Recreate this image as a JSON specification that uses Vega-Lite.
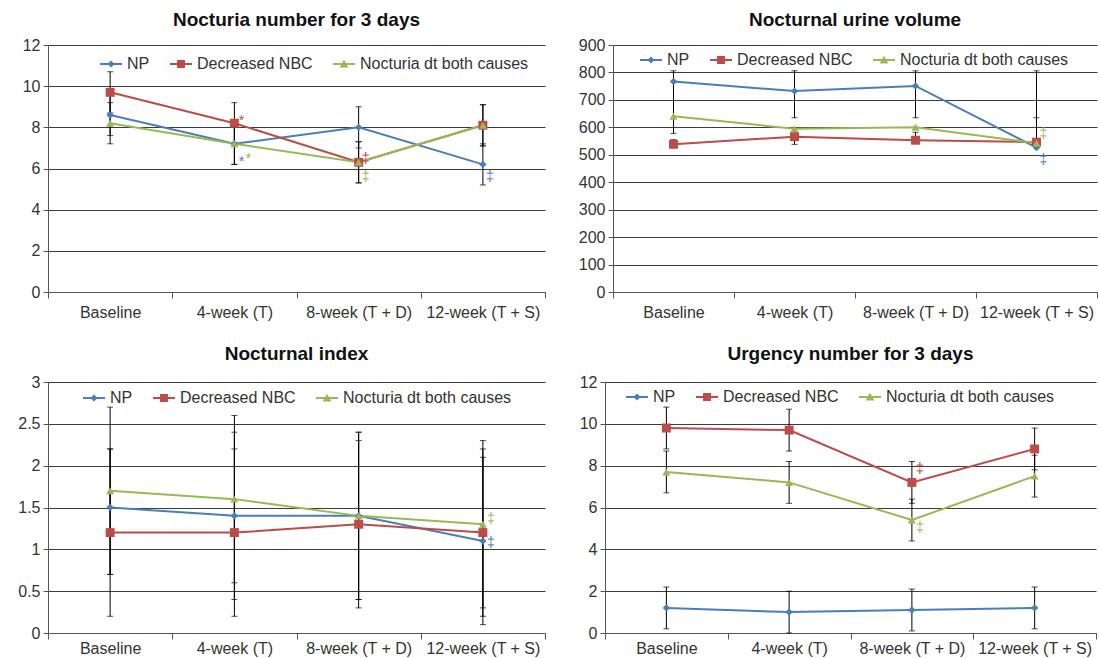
{
  "$schema": "https://vega.github.io/schema/vega-lite/v6.json",
  "padding": {"left": 17, "top": 11, "right": 3, "bottom": 2},
  "background": "white",
  "spacing": 25,
  "config": {
    "font": "Liberation Sans",
    "view": {"stroke": null},
    "axis": {"labelFont": "Liberation Sans", "labelFontSize": 16, "labelColor": "#333", "domainColor": "#555", "tickColor": "#555", "gridColor": "#3c3c3c", "gridWidth": 1, "title": null},
    "axisX": {"grid": false, "tickSize": 6, "labelPadding": 6, "labelAngle": 0},
    "axisY": {"grid": true, "tickSize": 5, "labelPadding": 3, "minExtent": 31, "labelOverlap": false},
    "title": {"font": "Liberation Sans", "fontSize": 19, "fontWeight": "bold", "color": "#111", "anchor": "middle", "offset": 10},
    "legend": {"labelFont": "Liberation Sans", "labelFontSize": 16, "labelColor": "#333", "labelLimit": 400}
  },
  "resolve": {"scale": {"color": "independent", "shape": "independent", "y": "independent"}},
  "datasets": {
    "p1": [
      {"time": "Baseline", "series": "NP", "value": 8.6, "lo": 7.6, "hi": 9.6},
      {"time": "Baseline", "series": "Decreased NBC", "value": 9.7, "lo": 8.7, "hi": 10.7},
      {"time": "Baseline", "series": "Nocturia dt both causes", "value": 8.2, "lo": 7.2, "hi": 9.2},
      {"time": "4-week (T)", "series": "NP", "value": 7.2, "lo": 6.2, "hi": 8.2},
      {"time": "4-week (T)", "series": "Decreased NBC", "value": 8.2, "lo": 7.2, "hi": 9.2},
      {"time": "4-week (T)", "series": "Nocturia dt both causes", "value": 7.2, "lo": 6.2, "hi": 8.2},
      {"time": "8-week (T + D)", "series": "NP", "value": 8.0, "lo": 7.0, "hi": 9.0},
      {"time": "8-week (T + D)", "series": "Decreased NBC", "value": 6.3, "lo": 5.3, "hi": 7.3},
      {"time": "8-week (T + D)", "series": "Nocturia dt both causes", "value": 6.3, "lo": 5.3, "hi": 7.3},
      {"time": "12-week (T + S)", "series": "NP", "value": 6.2, "lo": 5.2, "hi": 7.2},
      {"time": "12-week (T + S)", "series": "Decreased NBC", "value": 8.1, "lo": 7.1, "hi": 9.1},
      {"time": "12-week (T + S)", "series": "Nocturia dt both causes", "value": 8.1, "lo": 7.1, "hi": 9.1}
    ],
    "n1": [
      {"time": "4-week (T)", "series": "Decreased NBC", "y": 8.3, "label": "*"},
      {"time": "4-week (T)", "series": "NP", "y": 6.3, "label": "*"},
      {"time": "4-week (T)", "series": "Nocturia dt both causes", "y": 6.45, "label": "*"},
      {"time": "8-week (T + D)", "series": "Decreased NBC", "y": 6.45, "label": "‡"},
      {"time": "8-week (T + D)", "series": "Nocturia dt both causes", "y": 5.6, "label": "‡"},
      {"time": "12-week (T + S)", "series": "NP", "y": 5.6, "label": "‡"}
    ],
    "p2": [
      {"time": "Baseline", "series": "NP", "value": 767, "lo": 578, "hi": 806},
      {"time": "Baseline", "series": "Decreased NBC", "value": 538, "lo": 538, "hi": 555},
      {"time": "Baseline", "series": "Nocturia dt both causes", "value": 640, "lo": null, "hi": null},
      {"time": "4-week (T)", "series": "NP", "value": 732, "lo": 635, "hi": 806},
      {"time": "4-week (T)", "series": "Decreased NBC", "value": 566, "lo": 538, "hi": 596},
      {"time": "4-week (T)", "series": "Nocturia dt both causes", "value": 595, "lo": null, "hi": null},
      {"time": "8-week (T + D)", "series": "NP", "value": 751, "lo": 635, "hi": 806},
      {"time": "8-week (T + D)", "series": "Decreased NBC", "value": 553, "lo": 553, "hi": 582},
      {"time": "8-week (T + D)", "series": "Nocturia dt both causes", "value": 600, "lo": null, "hi": null},
      {"time": "12-week (T + S)", "series": "NP", "value": 526, "lo": 526, "hi": 558},
      {"time": "12-week (T + S)", "series": "Decreased NBC", "value": 546, "lo": 546, "hi": 806},
      {"time": "12-week (T + S)", "series": "Nocturia dt both causes", "value": 542, "lo": 542, "hi": 635}
    ],
    "n2": [
      {"time": "12-week (T + S)", "series": "Nocturia dt both causes", "y": 575, "label": "‡"},
      {"time": "12-week (T + S)", "series": "NP", "y": 482, "label": "‡"}
    ],
    "p3": [
      {"time": "Baseline", "series": "NP", "value": 1.5, "lo": 0.7, "hi": 2.2},
      {"time": "Baseline", "series": "Decreased NBC", "value": 1.2, "lo": 0.2, "hi": 2.2},
      {"time": "Baseline", "series": "Nocturia dt both causes", "value": 1.7, "lo": 0.7, "hi": 2.7},
      {"time": "4-week (T)", "series": "NP", "value": 1.4, "lo": 0.4, "hi": 2.4},
      {"time": "4-week (T)", "series": "Decreased NBC", "value": 1.2, "lo": 0.2, "hi": 2.2},
      {"time": "4-week (T)", "series": "Nocturia dt both causes", "value": 1.6, "lo": 0.6, "hi": 2.6},
      {"time": "8-week (T + D)", "series": "NP", "value": 1.4, "lo": 0.4, "hi": 2.4},
      {"time": "8-week (T + D)", "series": "Decreased NBC", "value": 1.3, "lo": 0.3, "hi": 2.3},
      {"time": "8-week (T + D)", "series": "Nocturia dt both causes", "value": 1.4, "lo": 0.4, "hi": 2.4},
      {"time": "12-week (T + S)", "series": "NP", "value": 1.1, "lo": 0.1, "hi": 2.1},
      {"time": "12-week (T + S)", "series": "Decreased NBC", "value": 1.2, "lo": 0.2, "hi": 2.2},
      {"time": "12-week (T + S)", "series": "Nocturia dt both causes", "value": 1.3, "lo": 0.3, "hi": 2.3}
    ],
    "n3": [
      {"time": "12-week (T + S)", "series": "Nocturia dt both causes", "y": 1.36, "label": "‡"},
      {"time": "12-week (T + S)", "series": "NP", "y": 1.08, "label": "‡"}
    ],
    "p4": [
      {"time": "Baseline", "series": "NP", "value": 1.2, "lo": 0.2, "hi": 2.2},
      {"time": "Baseline", "series": "Decreased NBC", "value": 9.8, "lo": 8.8, "hi": 10.8},
      {"time": "Baseline", "series": "Nocturia dt both causes", "value": 7.7, "lo": 6.7, "hi": 8.7},
      {"time": "4-week (T)", "series": "NP", "value": 1.0, "lo": 0.0, "hi": 2.0},
      {"time": "4-week (T)", "series": "Decreased NBC", "value": 9.7, "lo": 8.7, "hi": 10.7},
      {"time": "4-week (T)", "series": "Nocturia dt both causes", "value": 7.2, "lo": 6.2, "hi": 8.2},
      {"time": "8-week (T + D)", "series": "NP", "value": 1.1, "lo": 0.1, "hi": 2.1},
      {"time": "8-week (T + D)", "series": "Decreased NBC", "value": 7.2, "lo": 6.2, "hi": 8.2},
      {"time": "8-week (T + D)", "series": "Nocturia dt both causes", "value": 5.4, "lo": 4.4, "hi": 6.4},
      {"time": "12-week (T + S)", "series": "NP", "value": 1.2, "lo": 0.2, "hi": 2.2},
      {"time": "12-week (T + S)", "series": "Decreased NBC", "value": 8.8, "lo": 7.8, "hi": 9.8},
      {"time": "12-week (T + S)", "series": "Nocturia dt both causes", "value": 7.5, "lo": 6.5, "hi": 8.5}
    ],
    "n4": [
      {"time": "8-week (T + D)", "series": "Decreased NBC", "y": 7.85, "label": "‡"},
      {"time": "8-week (T + D)", "series": "Nocturia dt both causes", "y": 5.0, "label": "‡"}
    ]
  },
  "vconcat": [
    {
      "bounds": "flush",
      "spacing": 68,
      "resolve": {"scale": {"color": "independent", "shape": "independent", "y": "independent"}},
      "hconcat": [
        {
          "title": {"text": "Nocturia number for 3 days", "offset": 7},
          "width": 497, "height": 247,
          "data": {"name": "p1"},
          "encoding": {"x": {"field": "time", "type": "nominal", "sort": ["Baseline", "4-week (T)", "8-week (T + D)", "12-week (T + S)"], "scale": {"type": "band", "paddingInner": 0, "paddingOuter": 0}, "axis": {"title": null, "tickBand": "extent"}}},
          "layer": [
            {"mark": {"type": "point", "filled": true, "opacity": 0},
             "encoding": {
               "y": {"field": "value", "type": "quantitative", "title": null, "scale": {"domain": [0, 12], "nice": false}, "axis": {"values": [0, 2, 4, 6, 8, 10, 12], "tickCount": 7, "format": "d", "title": null}},
               "color": {"field": "series", "type": "nominal", "scale": {"domain": ["NP", "Decreased NBC", "Nocturia dt both causes"], "range": ["#4a7ebb", "#be4b48", "#98b954"]}, "legend": {"orient": "none", "legendX": 52, "legendY": 8, "direction": "horizontal", "title": null, "symbolSize": 484, "symbolStrokeWidth": 0, "symbolOpacity": 1, "columnPadding": 20, "labelOffset": 5}},
               "shape": {"field": "series", "type": "nominal", "scale": {"domain": ["NP", "Decreased NBC", "Nocturia dt both causes"], "range": ["M-1,-0.09H1V0.09H-1Z M0,-0.32L0.32,0L0,0.32L-0.32,0Z", "M-1,-0.09H1V0.09H-1Z M-0.36,-0.36H0.36V0.36H-0.36Z", "M-1,-0.09H1V0.09H-1Z M0,-0.38L0.4,0.32H-0.4Z"]}, "legend": {"orient": "none", "legendX": 52, "legendY": 8, "direction": "horizontal", "title": null, "symbolSize": 484, "symbolStrokeWidth": 0, "symbolOpacity": 1, "columnPadding": 20, "labelOffset": 5}}
             }},
            {"transform": [{"filter": "isValid(datum.lo)"}], "mark": {"type": "rule", "color": "#000", "strokeWidth": 1}, "encoding": {"y": {"field": "lo", "type": "quantitative", "title": null}, "y2": {"field": "hi"}}},
            {"transform": [{"filter": "isValid(datum.lo)"}], "mark": {"type": "tick", "orient": "horizontal", "color": "#000", "size": 6, "thickness": 1}, "encoding": {"y": {"field": "lo", "type": "quantitative", "title": null}}},
            {"transform": [{"filter": "isValid(datum.hi)"}], "mark": {"type": "tick", "orient": "horizontal", "color": "#000", "size": 6, "thickness": 1}, "encoding": {"y": {"field": "hi", "type": "quantitative", "title": null}}},
            {"mark": {"type": "line", "strokeWidth": 2}, "encoding": {"y": {"field": "value", "type": "quantitative", "title": null}, "color": {"field": "series", "type": "nominal", "legend": null}}},
            {"transform": [{"filter": "datum.series == 'NP'"}], "mark": {"type": "point", "shape": "diamond", "filled": true, "opacity": 1, "size": 55}, "encoding": {"y": {"field": "value", "type": "quantitative", "title": null}, "color": {"field": "series", "type": "nominal", "legend": null}}},
            {"transform": [{"filter": "datum.series == 'Decreased NBC'"}], "mark": {"type": "point", "shape": "square", "filled": true, "opacity": 1, "size": 80}, "encoding": {"y": {"field": "value", "type": "quantitative", "title": null}, "color": {"field": "series", "type": "nominal", "legend": null}}},
            {"transform": [{"filter": "datum.series == 'Nocturia dt both causes'"}], "mark": {"type": "point", "shape": "triangle-up", "filled": true, "opacity": 1, "size": 65}, "encoding": {"y": {"field": "value", "type": "quantitative", "title": null}, "color": {"field": "series", "type": "nominal", "legend": null}}},
            {"data": {"name": "n1"}, "transform": [{"filter": "!(datum.series == 'Nocturia dt both causes' && datum.label == '*')"}], "mark": {"type": "text", "dx": 7, "fontSize": 14, "baseline": "middle"}, "encoding": {"y": {"field": "y", "type": "quantitative", "title": null}, "text": {"field": "label"}, "color": {"field": "series", "type": "nominal", "legend": null}}},
            {"data": {"name": "n1"}, "transform": [{"filter": "datum.series == 'Nocturia dt both causes' && datum.label == '*'"}], "mark": {"type": "text", "dx": 14, "fontSize": 14, "baseline": "middle"}, "encoding": {"y": {"field": "y", "type": "quantitative", "title": null}, "text": {"field": "label"}, "color": {"field": "series", "type": "nominal", "legend": null}}}
          ]
        },
        {
          "title": {"text": "Nocturnal urine volume", "offset": 7},
          "width": 484, "height": 247,
          "data": {"name": "p2"},
          "encoding": {"x": {"field": "time", "type": "nominal", "sort": ["Baseline", "4-week (T)", "8-week (T + D)", "12-week (T + S)"], "scale": {"type": "band", "paddingInner": 0, "paddingOuter": 0}, "axis": {"title": null, "tickBand": "extent"}}},
          "layer": [
            {"mark": {"type": "point", "filled": true, "opacity": 0},
             "encoding": {
               "y": {"field": "value", "type": "quantitative", "title": null, "scale": {"domain": [0, 900], "nice": false}, "axis": {"values": [0, 100, 200, 300, 400, 500, 600, 700, 800, 900], "tickCount": 10, "format": "d", "title": null}},
               "color": {"field": "series", "type": "nominal", "scale": {"domain": ["NP", "Decreased NBC", "Nocturia dt both causes"], "range": ["#4a7ebb", "#be4b48", "#98b954"]}, "legend": {"orient": "none", "legendX": 27, "legendY": 4, "direction": "horizontal", "title": null, "symbolSize": 484, "symbolStrokeWidth": 0, "symbolOpacity": 1, "columnPadding": 20, "labelOffset": 5}},
               "shape": {"field": "series", "type": "nominal", "scale": {"domain": ["NP", "Decreased NBC", "Nocturia dt both causes"], "range": ["M-1,-0.09H1V0.09H-1Z M0,-0.32L0.32,0L0,0.32L-0.32,0Z", "M-1,-0.09H1V0.09H-1Z M-0.36,-0.36H0.36V0.36H-0.36Z", "M-1,-0.09H1V0.09H-1Z M0,-0.38L0.4,0.32H-0.4Z"]}, "legend": {"orient": "none", "legendX": 27, "legendY": 4, "direction": "horizontal", "title": null, "symbolSize": 484, "symbolStrokeWidth": 0, "symbolOpacity": 1, "columnPadding": 20, "labelOffset": 5}}
             }},
            {"transform": [{"filter": "isValid(datum.lo)"}], "mark": {"type": "rule", "color": "#000", "strokeWidth": 1}, "encoding": {"y": {"field": "lo", "type": "quantitative", "title": null}, "y2": {"field": "hi"}}},
            {"transform": [{"filter": "isValid(datum.lo)"}], "mark": {"type": "tick", "orient": "horizontal", "color": "#000", "size": 6, "thickness": 1}, "encoding": {"y": {"field": "lo", "type": "quantitative", "title": null}}},
            {"transform": [{"filter": "isValid(datum.hi)"}], "mark": {"type": "tick", "orient": "horizontal", "color": "#000", "size": 6, "thickness": 1}, "encoding": {"y": {"field": "hi", "type": "quantitative", "title": null}}},
            {"mark": {"type": "line", "strokeWidth": 2}, "encoding": {"y": {"field": "value", "type": "quantitative", "title": null}, "color": {"field": "series", "type": "nominal", "legend": null}}},
            {"transform": [{"filter": "datum.series == 'NP'"}], "mark": {"type": "point", "shape": "diamond", "filled": true, "opacity": 1, "size": 55}, "encoding": {"y": {"field": "value", "type": "quantitative", "title": null}, "color": {"field": "series", "type": "nominal", "legend": null}}},
            {"transform": [{"filter": "datum.series == 'Decreased NBC'"}], "mark": {"type": "point", "shape": "square", "filled": true, "opacity": 1, "size": 80}, "encoding": {"y": {"field": "value", "type": "quantitative", "title": null}, "color": {"field": "series", "type": "nominal", "legend": null}}},
            {"transform": [{"filter": "datum.series == 'Nocturia dt both causes'"}], "mark": {"type": "point", "shape": "triangle-up", "filled": true, "opacity": 1, "size": 65}, "encoding": {"y": {"field": "value", "type": "quantitative", "title": null}, "color": {"field": "series", "type": "nominal", "legend": null}}},
            {"data": {"name": "n2"}, "mark": {"type": "text", "dx": 7, "fontSize": 14, "baseline": "middle"}, "encoding": {"y": {"field": "y", "type": "quantitative", "title": null}, "text": {"field": "label"}, "color": {"field": "series", "type": "nominal", "legend": null}}}
          ]
        }
      ]
    },
    {
      "bounds": "flush",
      "spacing": 60,
      "resolve": {"scale": {"color": "independent", "shape": "independent", "y": "independent"}},
      "hconcat": [
        {
          "title": {"text": "Nocturnal index"},
          "width": 497, "height": 251,
          "data": {"name": "p3"},
          "encoding": {"x": {"field": "time", "type": "nominal", "sort": ["Baseline", "4-week (T)", "8-week (T + D)", "12-week (T + S)"], "scale": {"type": "band", "paddingInner": 0, "paddingOuter": 0}, "axis": {"title": null, "tickBand": "extent", "labelPadding": 1}}},
          "layer": [
            {"mark": {"type": "point", "filled": true, "opacity": 0},
             "encoding": {
               "y": {"field": "value", "type": "quantitative", "title": null, "scale": {"domain": [0, 3], "nice": false}, "axis": {"values": [0, 0.5, 1, 1.5, 2, 2.5, 3], "tickCount": 7, "format": "~g", "title": null}},
               "color": {"field": "series", "type": "nominal", "scale": {"domain": ["NP", "Decreased NBC", "Nocturia dt both causes"], "range": ["#4a7ebb", "#be4b48", "#98b954"]}, "legend": {"orient": "none", "legendX": 35, "legendY": 5, "direction": "horizontal", "title": null, "symbolSize": 484, "symbolStrokeWidth": 0, "symbolOpacity": 1, "columnPadding": 20, "labelOffset": 5}},
               "shape": {"field": "series", "type": "nominal", "scale": {"domain": ["NP", "Decreased NBC", "Nocturia dt both causes"], "range": ["M-1,-0.09H1V0.09H-1Z M0,-0.32L0.32,0L0,0.32L-0.32,0Z", "M-1,-0.09H1V0.09H-1Z M-0.36,-0.36H0.36V0.36H-0.36Z", "M-1,-0.09H1V0.09H-1Z M0,-0.38L0.4,0.32H-0.4Z"]}, "legend": {"orient": "none", "legendX": 35, "legendY": 5, "direction": "horizontal", "title": null, "symbolSize": 484, "symbolStrokeWidth": 0, "symbolOpacity": 1, "columnPadding": 20, "labelOffset": 5}}
             }},
            {"transform": [{"filter": "isValid(datum.lo)"}], "mark": {"type": "rule", "color": "#000", "strokeWidth": 1}, "encoding": {"y": {"field": "lo", "type": "quantitative", "title": null}, "y2": {"field": "hi"}}},
            {"transform": [{"filter": "isValid(datum.lo)"}], "mark": {"type": "tick", "orient": "horizontal", "color": "#000", "size": 6, "thickness": 1}, "encoding": {"y": {"field": "lo", "type": "quantitative", "title": null}}},
            {"transform": [{"filter": "isValid(datum.hi)"}], "mark": {"type": "tick", "orient": "horizontal", "color": "#000", "size": 6, "thickness": 1}, "encoding": {"y": {"field": "hi", "type": "quantitative", "title": null}}},
            {"mark": {"type": "line", "strokeWidth": 2}, "encoding": {"y": {"field": "value", "type": "quantitative", "title": null}, "color": {"field": "series", "type": "nominal", "legend": null}}},
            {"transform": [{"filter": "datum.series == 'NP'"}], "mark": {"type": "point", "shape": "diamond", "filled": true, "opacity": 1, "size": 55}, "encoding": {"y": {"field": "value", "type": "quantitative", "title": null}, "color": {"field": "series", "type": "nominal", "legend": null}}},
            {"transform": [{"filter": "datum.series == 'Decreased NBC'"}], "mark": {"type": "point", "shape": "square", "filled": true, "opacity": 1, "size": 80}, "encoding": {"y": {"field": "value", "type": "quantitative", "title": null}, "color": {"field": "series", "type": "nominal", "legend": null}}},
            {"transform": [{"filter": "datum.series == 'Nocturia dt both causes'"}], "mark": {"type": "point", "shape": "triangle-up", "filled": true, "opacity": 1, "size": 65}, "encoding": {"y": {"field": "value", "type": "quantitative", "title": null}, "color": {"field": "series", "type": "nominal", "legend": null}}},
            {"data": {"name": "n3"}, "mark": {"type": "text", "dx": 8, "fontSize": 14, "baseline": "middle"}, "encoding": {"y": {"field": "y", "type": "quantitative", "title": null}, "text": {"field": "label"}, "color": {"field": "series", "type": "nominal", "legend": null}}}
          ]
        },
        {
          "title": {"text": "Urgency number for 3 days"},
          "width": 491, "height": 251,
          "data": {"name": "p4"},
          "encoding": {"x": {"field": "time", "type": "nominal", "sort": ["Baseline", "4-week (T)", "8-week (T + D)", "12-week (T + S)"], "scale": {"type": "band", "paddingInner": 0, "paddingOuter": 0}, "axis": {"title": null, "tickBand": "extent", "labelPadding": 1}}},
          "layer": [
            {"mark": {"type": "point", "filled": true, "opacity": 0},
             "encoding": {
               "y": {"field": "value", "type": "quantitative", "title": null, "scale": {"domain": [0, 12], "nice": false}, "axis": {"values": [0, 2, 4, 6, 8, 10, 12], "tickCount": 7, "format": "d", "title": null}},
               "color": {"field": "series", "type": "nominal", "scale": {"domain": ["NP", "Decreased NBC", "Nocturia dt both causes"], "range": ["#4a7ebb", "#be4b48", "#98b954"]}, "legend": {"orient": "none", "legendX": 21, "legendY": 4, "direction": "horizontal", "title": null, "symbolSize": 484, "symbolStrokeWidth": 0, "symbolOpacity": 1, "columnPadding": 20, "labelOffset": 5}},
               "shape": {"field": "series", "type": "nominal", "scale": {"domain": ["NP", "Decreased NBC", "Nocturia dt both causes"], "range": ["M-1,-0.09H1V0.09H-1Z M0,-0.32L0.32,0L0,0.32L-0.32,0Z", "M-1,-0.09H1V0.09H-1Z M-0.36,-0.36H0.36V0.36H-0.36Z", "M-1,-0.09H1V0.09H-1Z M0,-0.38L0.4,0.32H-0.4Z"]}, "legend": {"orient": "none", "legendX": 21, "legendY": 4, "direction": "horizontal", "title": null, "symbolSize": 484, "symbolStrokeWidth": 0, "symbolOpacity": 1, "columnPadding": 20, "labelOffset": 5}}
             }},
            {"transform": [{"filter": "isValid(datum.lo)"}], "mark": {"type": "rule", "color": "#000", "strokeWidth": 1}, "encoding": {"y": {"field": "lo", "type": "quantitative", "title": null}, "y2": {"field": "hi"}}},
            {"transform": [{"filter": "isValid(datum.lo)"}], "mark": {"type": "tick", "orient": "horizontal", "color": "#000", "size": 6, "thickness": 1}, "encoding": {"y": {"field": "lo", "type": "quantitative", "title": null}}},
            {"transform": [{"filter": "isValid(datum.hi)"}], "mark": {"type": "tick", "orient": "horizontal", "color": "#000", "size": 6, "thickness": 1}, "encoding": {"y": {"field": "hi", "type": "quantitative", "title": null}}},
            {"mark": {"type": "line", "strokeWidth": 2}, "encoding": {"y": {"field": "value", "type": "quantitative", "title": null}, "color": {"field": "series", "type": "nominal", "legend": null}}},
            {"transform": [{"filter": "datum.series == 'NP'"}], "mark": {"type": "point", "shape": "diamond", "filled": true, "opacity": 1, "size": 55}, "encoding": {"y": {"field": "value", "type": "quantitative", "title": null}, "color": {"field": "series", "type": "nominal", "legend": null}}},
            {"transform": [{"filter": "datum.series == 'Decreased NBC'"}], "mark": {"type": "point", "shape": "square", "filled": true, "opacity": 1, "size": 80}, "encoding": {"y": {"field": "value", "type": "quantitative", "title": null}, "color": {"field": "series", "type": "nominal", "legend": null}}},
            {"transform": [{"filter": "datum.series == 'Nocturia dt both causes'"}], "mark": {"type": "point", "shape": "triangle-up", "filled": true, "opacity": 1, "size": 65}, "encoding": {"y": {"field": "value", "type": "quantitative", "title": null}, "color": {"field": "series", "type": "nominal", "legend": null}}},
            {"data": {"name": "n4"}, "mark": {"type": "text", "dx": 8, "fontSize": 14, "baseline": "middle"}, "encoding": {"y": {"field": "y", "type": "quantitative", "title": null}, "text": {"field": "label"}, "color": {"field": "series", "type": "nominal", "legend": null}}}
          ]
        }
      ]
    }
  ]
}
